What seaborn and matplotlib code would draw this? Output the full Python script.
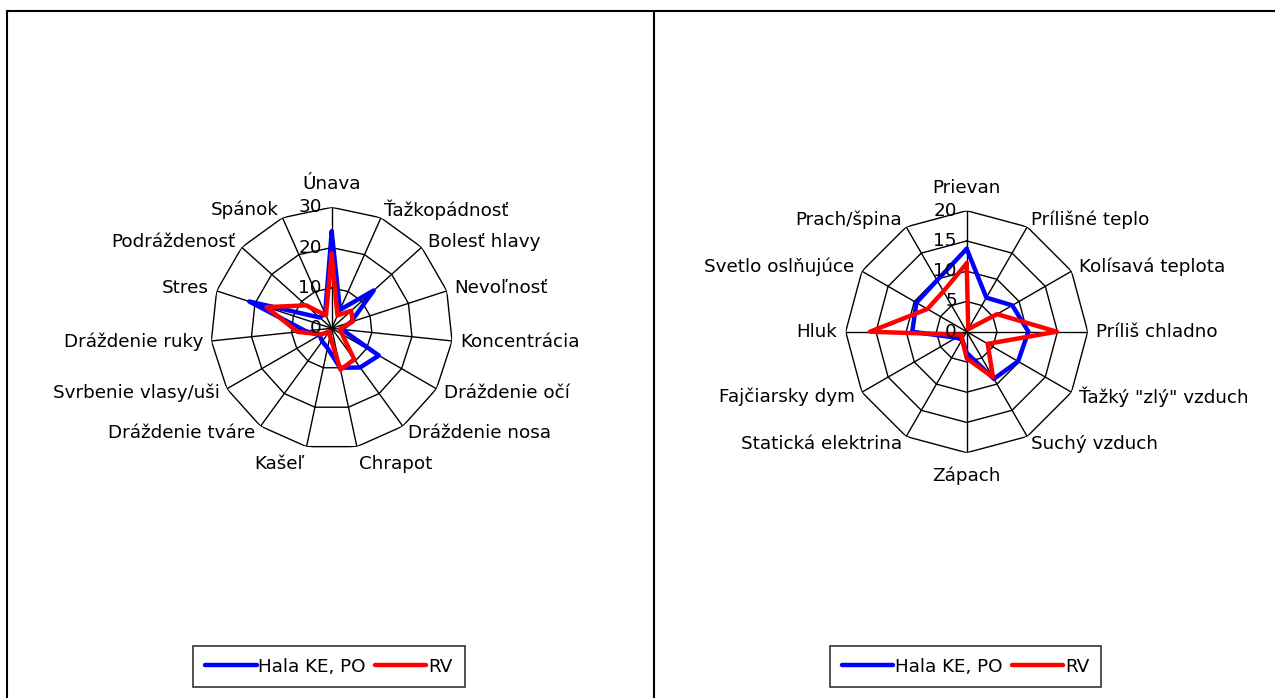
import numpy as np
import pandas as pd
import matplotlib
matplotlib.use("Agg")
import matplotlib.pyplot as plt
import seaborn as sns
from matplotlib.lines import Line2D

# ---------------- data ----------------
left_categories = ["Únava", "Ťažkopádnosť", "Bolesť hlavy", "Nevoľnosť", "Koncentrácia",
                   "Dráždenie očí", "Dráždenie nosa", "Chrapot", "Kašeľ", "Dráždenie tváre",
                   "Svrbenie vlasy/uši", "Dráždenie ruky", "Stres", "Podráždenosť", "Spánok"]
left_hala = [24, 5, 14, 5, 2.5, 13.5, 12, 10, 5, 4, 3.5, 6.5, 21.5, 4, 4]
left_rv = [18.5, 3.5, 6.5, 5.5, 2, 3, 9.5, 10.5, 2, 1, 3, 8.5, 17, 8.5, 3.5]
left_ticks = [0, 10, 20, 30]

right_categories = ["Prievan", "Prílišné teplo", "Kolísavá teplota", "Príliš chladno",
                    "Ťažký \"zlý\" vzduch", "Suchý vzduch", "Zápach", "Statická elektrina",
                    "Fajčiarsky dym", "Hluk", "Svetlo oslňujúce", "Prach/špina"]
right_hala = [13.7, 6.5, 8.7, 10.2, 9.8, 9, 3.5, 1.5, 2, 9, 9.6, 9.8]
right_rv = [11.3, 0.5, 5.8, 14.9, 4, 8.7, 4.4, 1.5, 1, 16, 7.5, 7.7]
right_ticks = [0, 5, 10, 15, 20]

series_names = ["Hala KE, PO", "RV"]
series_colors = {"Hala KE, PO": "#0000FF", "RV": "#FF0000"}

# ---------------- style ----------------
sns.set_theme(style="white")
plt.rcParams["font.family"] = ["DejaVu Sans"]
plt.rcParams["text.color"] = "black"
FS = 13.2

W, H = 1275, 698
fig = plt.figure(figsize=(W / 100, H / 100), dpi=100)
fig.patch.set_facecolor("white")


def radar(rect, cats, hala, rv, ticks):
    ax = fig.add_axes(rect, projection="polar")
    ax.set_facecolor("none")
    n = len(cats)
    theta = np.linspace(0, 2 * np.pi, n, endpoint=False)
    th_closed = np.append(theta, theta[0] + 2 * np.pi)
    rmax = ticks[-1]
    ax.set_theta_zero_location("N")
    ax.set_theta_direction(-1)
    ax.grid(False)
    ax.set_xticks([])
    ax.set_yticks([])
    ax.spines["polar"].set_visible(False)

    # polygon grid
    for r in ticks[1:]:
        ax.plot(th_closed, [r] * (n + 1), color="black", lw=1.0, zorder=1)
    for t in theta:
        ax.plot([t, t], [0, rmax], color="black", lw=1.0, zorder=1)

    # data
    rows = []
    for name, vals in zip(series_names, [hala, rv]):
        vv = list(vals) + [vals[0]]
        for i, (t, v) in enumerate(zip(th_closed, vv)):
            rows.append({"theta": t, "value": v, "series": name, "order": i})
    df = pd.DataFrame(rows)
    sns.lineplot(data=df, x="theta", y="value", hue="series", palette=series_colors,
                 sort=False, estimator=None, units="series", lw=3.2, ax=ax,
                 legend=False, zorder=3)
    ax.set_xlabel("")
    ax.set_ylabel("")
    ax.set_ylim(0, rmax)

    # category labels
    for t, lab in zip(theta, cats):
        s, c = np.sin(t), np.cos(t)
        pad = 10 if abs(c) > 0.999 else 6
        ha = "left" if s > 0.15 else ("right" if s < -0.15 else "center")
        va = "bottom" if c > 0.95 else ("top" if c < -0.95 else "center")
        ax.annotate(lab, xy=(t, rmax), xytext=(s * pad, c * pad), textcoords="offset points",
                    ha=ha, va=va, fontsize=FS, color="black", annotation_clip=False)
    # radial labels
    for v in ticks:
        ax.annotate(str(v), xy=(0, v), xytext=(-7, 0), textcoords="offset points",
                    ha="right", va="center", fontsize=FS, color="black", zorder=5)
    return ax


# left radar: center (331.7, 328.3) px, radius 121
cx, cy, R = 331.7, 328.3, 121
radar([(cx - R) / W, (H - cy - R) / H, 2 * R / W, 2 * R / H],
      left_categories, left_hala, left_rv, left_ticks)
cx, cy, R = 966.7, 331.7, 121
radar([(cx - R) / W, (H - cy - R) / H, 2 * R / W, 2 * R / H],
      right_categories, right_hala, right_rv, right_ticks)

# panel frames
for xs, ys in [([7 / W, 1], [1 - 11 / H, 1 - 11 / H]),
               ([7 / W, 7 / W], [0, 1 - 11 / H]),
               ([654 / W, 654 / W], [0, 1 - 11 / H])]:
    fig.add_artist(Line2D(xs, ys, color="black", lw=1.5, transform=fig.transFigure))

# legends
handles = [Line2D([], [], color=series_colors[n], lw=3.2) for n in series_names]
for xc in [329, 965.5]:
    leg = fig.legend(handles, series_names, loc="center", bbox_to_anchor=(xc / W, 1 - 666.5 / H),
                     ncol=2, frameon=True, fancybox=False, shadow=False, edgecolor="black",
                     fontsize=FS, handlelength=2.8, handletextpad=0.1, columnspacing=0.5,
                     borderpad=0.65, borderaxespad=0, labelcolor="black")
    leg.get_frame().set_linewidth(1.2)

fig.savefig("out.png", dpi=100, facecolor="white")
